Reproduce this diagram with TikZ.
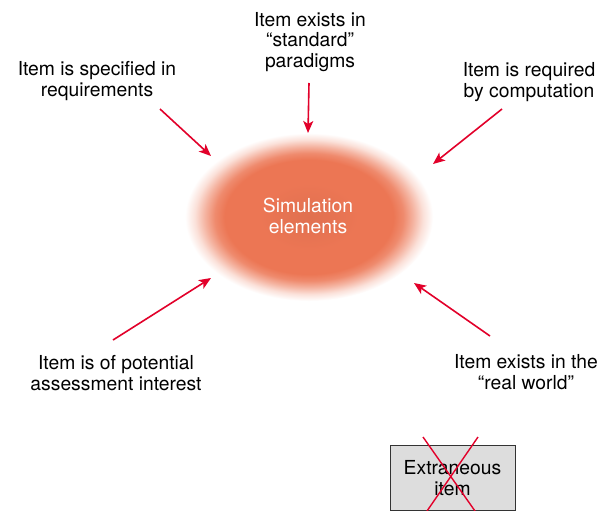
\documentclass[tikz,border=0pt]{standalone}
\usepackage{fontspec}
\setmainfont{TeX Gyre Heros}
\usetikzlibrary{arrows.meta}
\definecolor{arrowred}{RGB}{226,0,42}
\definecolor{blobcore}{RGB}{236,118,84}
\definecolor{boxgray}{RGB}{221,221,221}
\pgfdeclareradialshading{blobshade}{\pgfpoint{0bp}{0bp}}{%
  color(0bp)=(blobcore!95!black);
  color(10bp)=(blobcore);
  color(17bp)=(blobcore);
  color(19bp)=(blobcore!85!white);
  color(21bp)=(blobcore!55!white);
  color(23bp)=(blobcore!22!white);
  color(25bp)=(white);
  color(50bp)=(white)}
\tikzset{
  lbl/.style={font=\fontsize{19.3}{20.5}\selectfont, align=center, inner sep=0pt, text=black},
  feed/.style={draw=arrowred, line width=1.6pt, -{Stealth[length=12pt,width=10pt,inset=3pt]}},
  cross/.style={draw=arrowred, line width=1.4pt},
}
\begin{document}
\begin{tikzpicture}[x=1pt,y=-1pt]
\useasboundingbox[fill=white] (0,0) rectangle (605,511);
% blob
\shade[shading=blobshade] (309,217) ellipse [x radius=124, y radius=84];
\node[lbl, text=white] (sim) at (308,216) {Simulation\\elements};
% labels
\node[lbl] (t1) at (97,81) {Item is specified in\\requirements};
\node[lbl] (t2) at (310,42) {Item exists in\\“standard”\\paradigms};
\node[lbl] (t3) at (529,82) {Item is required\\by computation};
\node[lbl] (t4) at (116,373) {Item is of potential\\assessment interest};
\node[lbl] (t5) at (526,372) {Item exists in the\\“real world”};
% arrow coordinates
\coordinate (a1s) at (160,109); \coordinate (a1e) at (211,156);
\coordinate (a2s) at (309,83);  \coordinate (a2e) at (308,133);
\coordinate (a3s) at (502,109); \coordinate (a3e) at (433,164);
\coordinate (a4s) at (113,340); \coordinate (a4e) at (211,278);
\coordinate (a5s) at (490,336); \coordinate (a5e) at (414,283);
\draw[feed] (a1s) -- (a1e);
\draw[feed] (a2s) -- (a2e);
\draw[feed] (a3s) -- (a3e);
\draw[feed] (a4s) -- (a4e);
\draw[feed] (a5s) -- (a5e);
% extraneous box
\node[lbl, draw=black!80, line width=0.8pt, fill=boxgray, minimum width=125pt, minimum height=65pt] (ext) at (452.5,478) {Extraneous\\item};
\coordinate (c1s) at (423,437); \coordinate (c1e) at (475,511);
\coordinate (c2s) at (478,437); \coordinate (c2e) at (427,511);
\draw[cross] (c1s) -- (c1e);
\draw[cross] (c2s) -- (c2e);
\end{tikzpicture}
\end{document}
